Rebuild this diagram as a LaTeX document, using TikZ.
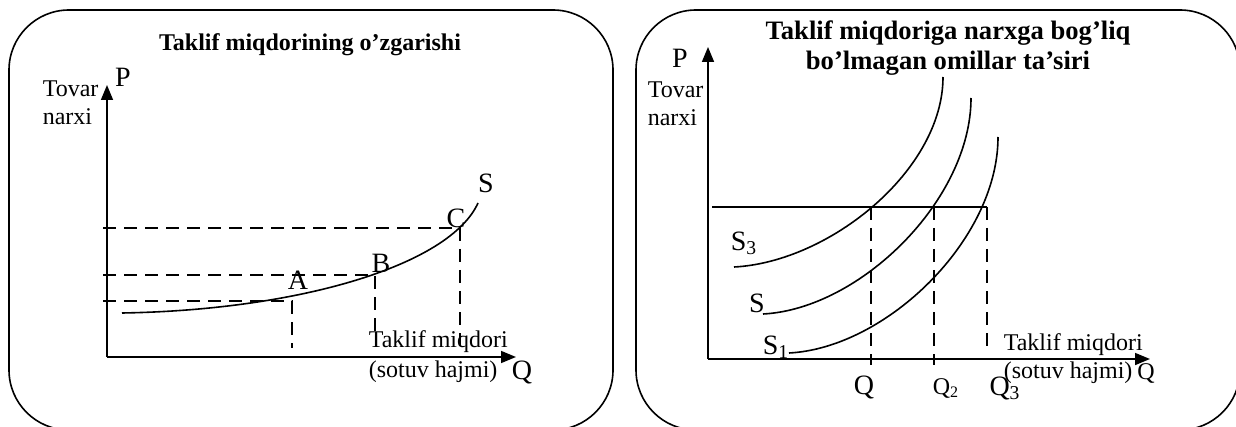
\documentclass[tikz,border=0pt]{standalone}
\usepackage{fontspec}
\setmainfont{Liberation Serif}
\usetikzlibrary{arrows.meta}

\begin{document}
\begin{tikzpicture}[x=0.5pt,y=-0.5pt,>={Triangle[length=7.5pt,width=6pt]},
      line width=0.8pt,
      panel/.style={draw,rounded corners=30pt},
      guide/.style={dash pattern=on 6.5pt off 4pt,line width=0.7pt},
      heading/.style={font=\fontsize{12}{15}\selectfont\bfseries,align=center,inner sep=0pt},
      lbl/.style={font=\fontsize{14}{16}\selectfont,inner sep=0pt},
      txt/.style={font=\fontsize{12}{14}\selectfont,align=left,inner sep=0pt}]

    \useasboundingbox (0,0) rectangle (1236,427);

    % left panel
    \draw[panel] (9,10) rectangle (613,430);
    \node[heading] (t1) at (310,45) {Taklif miqdorining o’zgarishi};

    \coordinate (o1) at (107,357);
    \coordinate (p1) at (107,85);
    \coordinate (q1) at (516,357);
    \draw[->] (o1) -- (p1);
    \draw[->] (o1) -- (q1);

    \coordinate (a) at (292,301);
    \coordinate (b) at (375,275);
    \coordinate (c) at (460,228);
    \draw[guide] (103,301) -- (a) -- (292,348);
    \draw[guide] (103,275) -- (b) -- (375,337);
    \draw[guide] (103,228) -- (c) -- (460,348);

    \draw (122,313) .. controls (300,310) and (450,265) .. (478,203);

    \node[lbl] (pa) at (298,280) {A};
    \node[lbl] (pb) at (381,263) {B};
    \node[lbl] (pc) at (456,218) {C};
    \node[lbl] (s) at (486,183) {S};
    \node[lbl] (plab1) at (123,77) {P};
    \node[lbl] (qlab1) at (522,372) {Q};
    \node[txt,anchor=west] (tovar1) at (42,103) {Tovar\\narxi};
    \node[txt,anchor=west,font=\fontsize{12}{15}\selectfont] (hajm1) at (368,357) {Taklif miqdori\\(sotuv hajmi)};

    % right panel
    \draw[panel] (636,10) rectangle (1240,430);
    \node[heading,font=\fontsize{13.3}{15}\selectfont\bfseries] (t2) at (948,48)
      {Taklif miqdoriga narxga bog’liq\\bo’lmagan omillar ta’siri};

    \coordinate (o2) at (708,359);
    \coordinate (p2) at (708,47);
    \coordinate (q2) at (1150,359);
    \draw[->] (o2) -- (p2);
    \draw[->] (o2) -- (q2);

    \coordinate (e1) at (871,207);
    \coordinate (e2) at (934,207);
    \coordinate (e3) at (987,207);
    \draw (712,207) -- (e3);
    \draw[guide] (e1) -- (871,365);
    \draw[guide] (e2) -- (934,365);
    \draw[guide] (e3) -- (987,348);

    \draw (734,267) .. controls (830,262) and (943,170) .. (943,77);
    \draw (763,314) .. controls (860,309) and (971,200) .. (971,98);
    \draw (789,353) .. controls (886,348) and (998,240) .. (998,137);

    \node[lbl] (s3) at (744,243) {S\textsubscript{3}};
    \node[lbl] (s2) at (757,303) {S};
    \node[lbl] (s1) at (776,347) {S\textsubscript{1}};
    \node[lbl] (qa) at (864,387) {Q};
    \node[lbl,font=\fontsize{12}{14}\selectfont] (qb) at (946,388) {Q\textsubscript{2}};
    \node[lbl] (qc) at (1005,388) {Q\textsubscript{3}};
    \node[lbl] (plab2) at (680,58) {P};
    \node[txt,anchor=west] (tovar2) at (647,104) {Tovar\\narxi};
    \node[txt,anchor=west] (hajm2) at (1003,359) {Taklif miqdori\\(sotuv hajmi)};
    \node[txt] (qlab2) at (1146,373) {Q};
\end{tikzpicture}
\end{document}
